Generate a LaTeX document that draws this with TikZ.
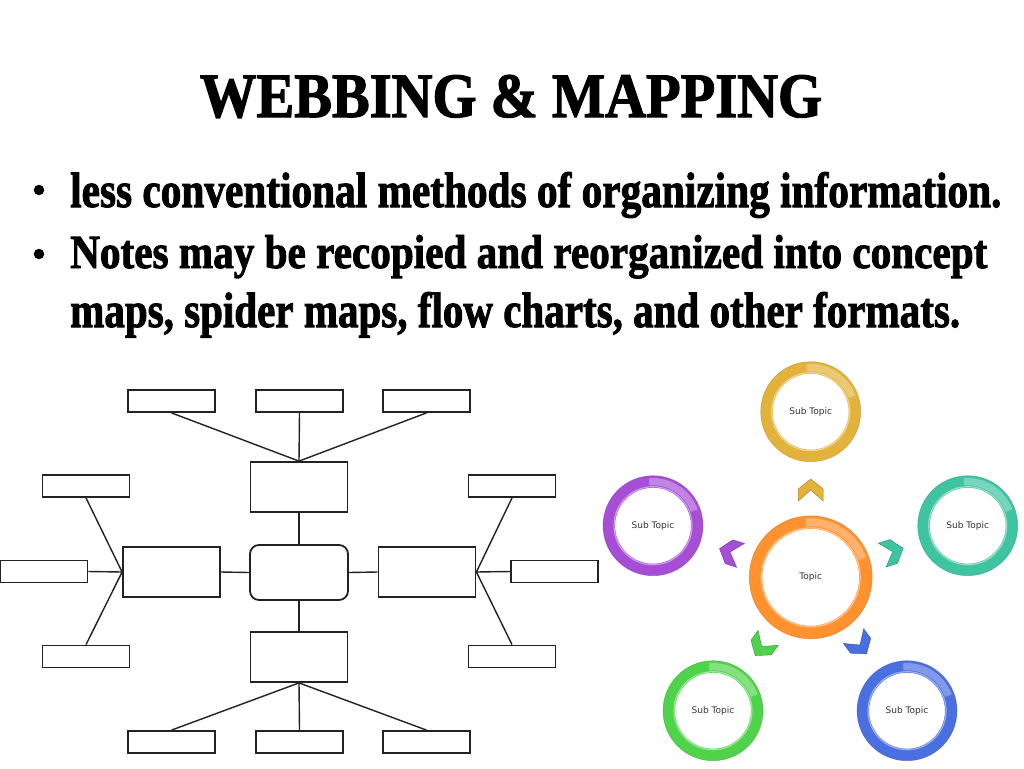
\documentclass[tikz,border=0pt]{standalone}
\usepackage{fontspec}
\setmainfont{Liberation Serif}
\newfontfamily\heavyfont{Liberation Serif}[UprightFont=* Bold, FakeBold=2]
\newfontfamily\labelfont{DejaVu Sans}
\usepackage{graphicx}
\definecolor{cgold}{HTML}{E2B23A}
\definecolor{cpurple}{HTML}{A64FD6}
\definecolor{cteal}{HTML}{3FC4A2}
\definecolor{corange}{HTML}{FF922E}
\definecolor{cgreen}{HTML}{4FD34A}
\definecolor{cblue}{HTML}{4A6FE0}
\definecolor{linegray}{HTML}{222222}
\tikzset{
  box/.style={draw=linegray, line width=1.8pt, fill=white, inner sep=0pt},
  smallbox/.style={box, minimum width=87pt, minimum height=22pt},
  bigbox/.style={box, minimum width=97pt, minimum height=50pt},
  conn/.style={draw=linegray, line width=1.4pt},
  lbl/.style={font=\labelfont\fontsize{9}{10}\selectfont, text=black!80, inner sep=0pt},
  bulletdot/.style={circle, fill=black, inner sep=0pt, minimum size=10.5pt},
  chev/.pic={\path[pic actions] (0pt,11pt) -- (12.5pt,1pt) -- (12.5pt,-11pt) -- (0pt,0pt) -- (-12.5pt,-11pt) -- (-12.5pt,1pt) -- cycle;}
}
\newcommand\ringat[4]{% node, radius(mid), thickness, color
  \draw[#4, line width=#3] (#1.center) circle (#2);
  \draw[#4!55!white, line width=1.2pt] (#1.center) circle ({#2-#3/2+1pt});
  \draw[#4!75!black, line width=0.6pt, opacity=0.5] (#1.center) circle ({#2+#3/2});
  \draw[white, line width=#3*0.6, opacity=0.3] (#1.center) ++(20:#2) arc (20:95:#2);
}
\begin{document}
\begin{tikzpicture}[x=1pt,y=-1pt]
\useasboundingbox (0,0) rectangle (1024,768);
\fill[white] (0,0) rectangle (1024,768);

% title
\node[anchor=base, inner sep=0pt] (title) at (511,117) {\resizebox{622pt}{42pt}{\heavyfont WEBBING \& MAPPING}};

% bullets
\node[bulletdot] (bu1) at (39,190) {};
\node[bulletdot] (bu2) at (39,254) {};
\node[anchor=base west, inner sep=0pt] (line1) at (70,207) {\resizebox{931pt}{35pt}{\heavyfont less conventional methods of organizing information.}};
\node[anchor=base west, inner sep=0pt] (line2) at (70,268) {\resizebox{917pt}{33pt}{\heavyfont Notes may be recopied and reorganized into concept}};
\node[anchor=base west, inner sep=0pt] (line3) at (70,327) {\resizebox{890pt}{35pt}{\heavyfont maps, spider maps, flow charts, and other formats.}};

% left web diagram
\node[smallbox] (t1) at (171.5,401) {};
\node[smallbox] (t2) at (299.5,401) {};
\node[smallbox] (t3) at (426.5,401) {};
\node[bigbox] (tm) at (299,487) {};
\node[box, minimum width=98pt, minimum height=55pt, rounded corners=9pt] (c) at (299,572.5) {};
\node[bigbox] (lm) at (171.5,572) {};
\node[bigbox] (rm) at (427,572) {};
\node[bigbox] (bm) at (299,657) {};
\node[smallbox] (b1) at (171.5,742) {};
\node[smallbox] (b2) at (299.5,742) {};
\node[smallbox] (b3) at (426.5,742) {};
\node[smallbox] (l1) at (86,486) {};
\node[smallbox] (l2) at (44,571.5) {};
\node[smallbox] (l3) at (86,656.5) {};
\node[smallbox] (r1) at (512,486) {};
\node[smallbox] (r2) at (554.5,571.5) {};
\node[smallbox] (r3) at (512,656.5) {};

\path[conn] (t1.south) -- (tm.north);
\path[conn] (t2.south) -- (tm.north);
\path[conn] (t3.south) -- (tm.north);
\path[conn] (tm.south) -- (c.north);
\path[conn] (c.south) -- (bm.north);
\path[conn] (lm.east) -- (c.west);
\path[conn] (c.east) -- (rm.west);
\path[conn] (bm.south) -- (b1.north);
\path[conn] (bm.south) -- (b2.north);
\path[conn] (bm.south) -- (b3.north);
\path[conn] (l1.south) -- (lm.west);
\path[conn] (l2.east) -- (lm.west);
\path[conn] (l3.north) -- (lm.west);
\path[conn] (r1.south) -- (rm.east);
\path[conn] (r2.west) -- (rm.east);
\path[conn] (r3.north) -- (rm.east);

% right topic diagram
\node[lbl] (topic) at (810.7,577.3) {Topic};
\node[lbl] (s1) at (810.7,411.7) {Sub Topic};
\node[lbl] (s2) at (653,525.7) {Sub Topic};
\node[lbl] (s3) at (967.7,525.7) {Sub Topic};
\node[lbl] (s4) at (713,710.7) {Sub Topic};
\node[lbl] (s5) at (907,710.7) {Sub Topic};

\ringat{topic}{55pt}{13pt}{corange}
\ringat{s1}{44pt}{12pt}{cgold}
\ringat{s2}{44pt}{12pt}{cpurple}
\ringat{s3}{44pt}{12pt}{cteal}
\ringat{s4}{44pt}{12pt}{cgreen}
\ringat{s5}{44pt}{12pt}{cblue}

\coordinate (k1) at (810.7,490);
\coordinate (k2) at (730,552);
\coordinate (k3) at (892.7,551.7);
\coordinate (k4) at (761.7,646.7);
\coordinate (k5) at (860,645);
\pic[fill=cgold, draw=cgold!70!black, line width=0.4pt] at (k1) {chev};
\pic[fill=cpurple, draw=cpurple!70!black, line width=0.4pt, rotate=72] at (k2) {chev};
\pic[fill=cteal, draw=cteal!70!black, line width=0.4pt, rotate=-72] at (k3) {chev};
\pic[fill=cgreen, draw=cgreen!70!black, line width=0.4pt, rotate=144] at (k4) {chev};
\pic[fill=cblue, draw=cblue!70!black, line width=0.4pt, rotate=-144] at (k5) {chev};
\end{tikzpicture}
\end{document}
